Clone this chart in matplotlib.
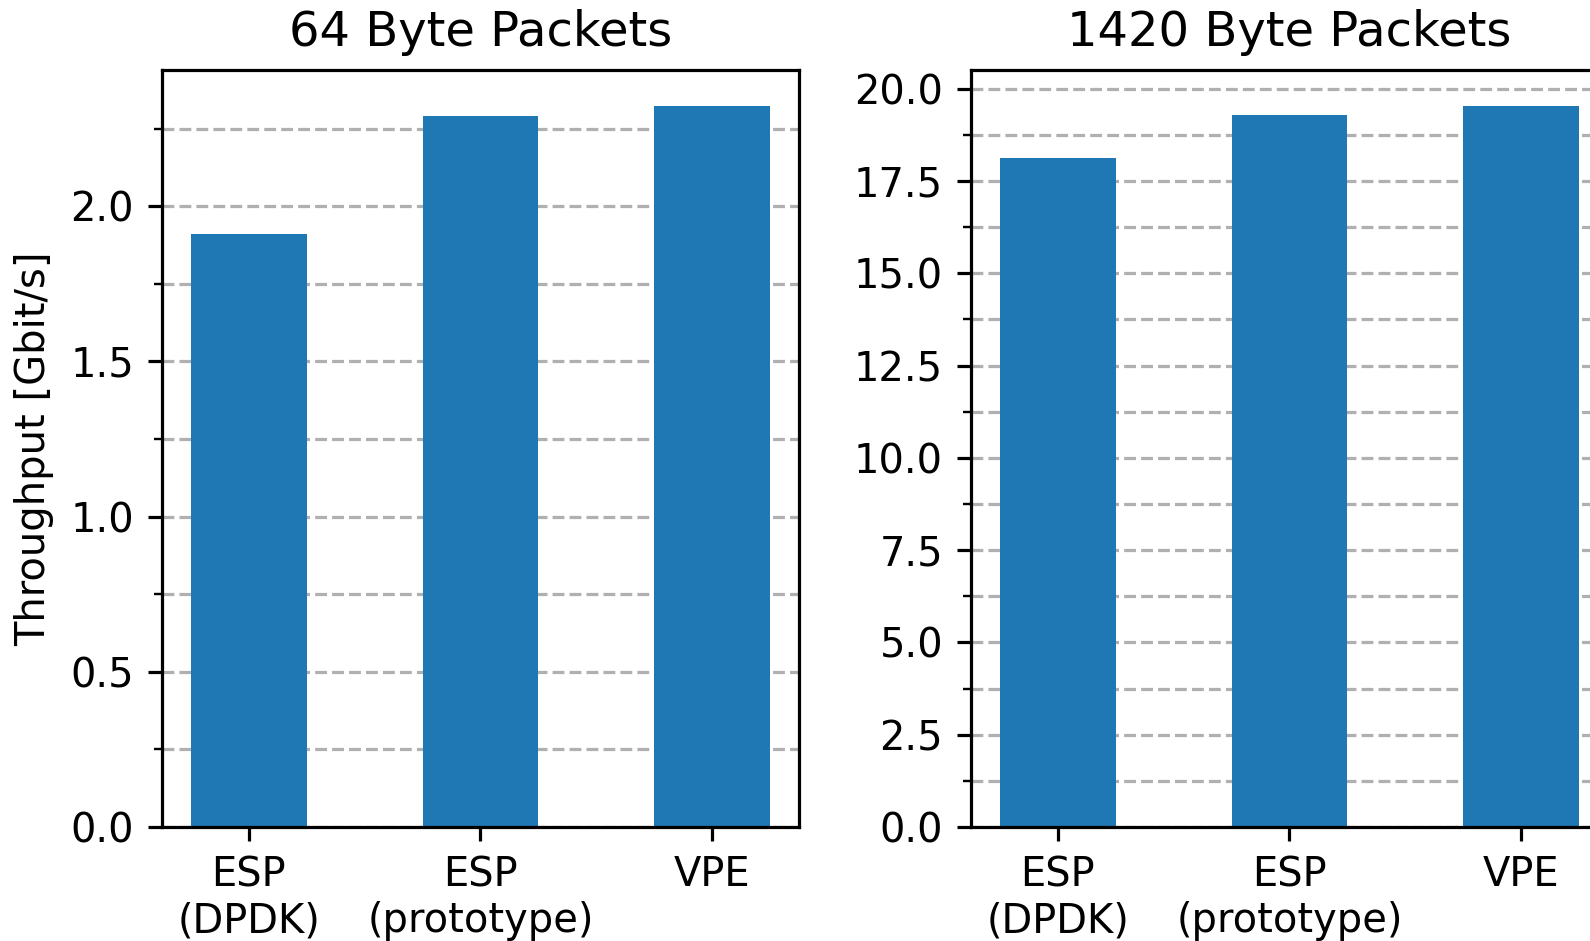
import numpy as np
import matplotlib
matplotlib.use("Agg")
import matplotlib.pyplot as plt
from matplotlib.ticker import AutoMinorLocator

# data
labels = ["ESP\n(DPDK)", "ESP\n(prototype)", "VPE"]
tput_64 = [1.91, 2.29, 2.323]
tput_1420 = [18.11, 19.29, 19.53]
titles = ["64 Byte Packets", "1420 Byte Packets"]


def draw(ax, values, title):
    x = np.arange(len(labels))
    ax.bar(x, values, width=0.5, color="#1f77b4")
    ax.set_xticks(x)
    ax.set_xticklabels(labels)
    ax.set_title(title, fontsize=12)
    ax.yaxis.set_minor_locator(AutoMinorLocator(2))
    ax.set_axisbelow(True)
    ax.grid(True, axis="y", which="both", linestyle="--", color="#b0b0b0")


fig = plt.figure(figsize=(1590 / 288, 941 / 288), dpi=288)
ax1 = fig.add_axes([0.1019, 0.1211, 0.4006, 0.8045])
ax2 = fig.add_axes([0.6107, 0.1211, 0.4006, 0.8045])

draw(ax1, tput_64, titles[0])
draw(ax2, tput_1420, titles[1])
ax1.set_ylabel("Throughput [Gbit/s]")

fig.savefig("out.png", dpi=288)
